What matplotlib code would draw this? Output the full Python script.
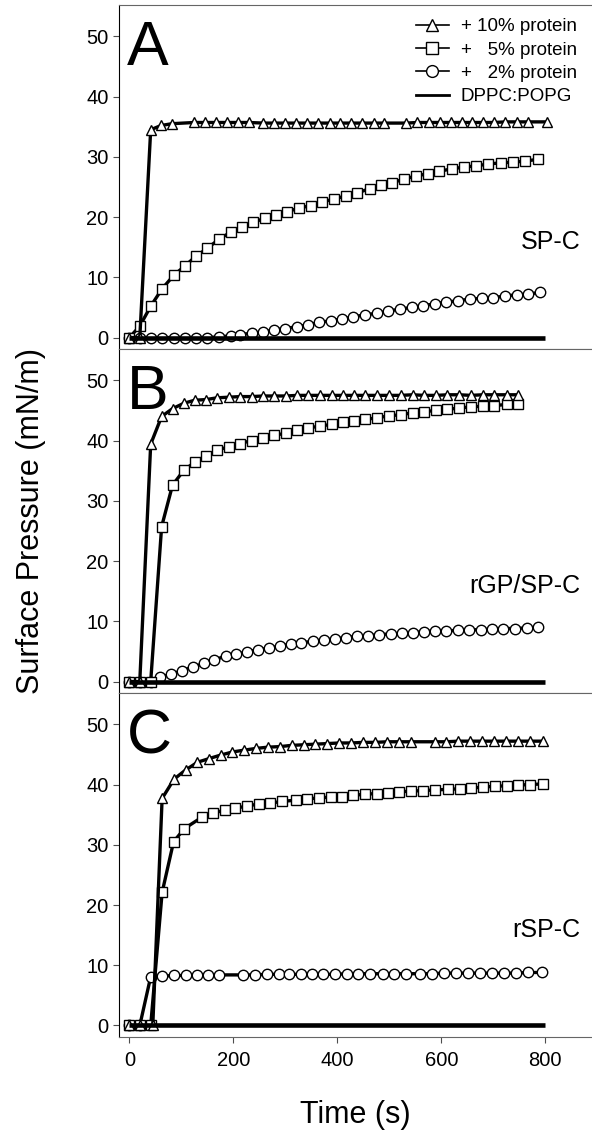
import numpy as np
import matplotlib.pyplot as plt
from matplotlib.lines import Line2D

plt.rcParams['font.family'] = ['Liberation Sans', 'DejaVu Sans']

# ---- panel A : SP-C ----
tA_10 = [0, 20, 41, 61, 82, 125, 146, 167, 188, 209, 230, 258, 279, 300, 321, 342, 363, 385,
         406, 427, 448, 470, 490, 533, 554, 576, 597, 618, 639, 660, 681, 702, 723, 745, 766, 803]
pA_10 = [0, 0, 34.5, 35.2, 35.5, 35.7, 35.7, 35.7, 35.7, 35.7, 35.7, 35.6, 35.6, 35.6, 35.6, 35.6,
         35.6, 35.6, 35.6, 35.6, 35.6, 35.6, 35.6, 35.6, 35.7, 35.7, 35.7, 35.7, 35.7, 35.7, 35.7,
         35.7, 35.8, 35.8, 35.8, 35.8]
tA_5 = [0, 20, 41, 63, 85, 107, 128, 150, 172, 195, 217, 238, 260, 283, 304, 327, 349, 371,
        394, 416, 438, 462, 484, 506, 528, 551, 574, 596, 620, 644, 667, 690, 714, 738, 762, 787]
pA_5 = [0, 1.9, 5.2, 8.1, 10.3, 11.9, 13.5, 14.8, 16.3, 17.5, 18.4, 19.1, 19.8, 20.4, 20.9, 21.5,
        21.9, 22.5, 23.0, 23.5, 24.0, 24.7, 25.3, 25.7, 26.3, 26.8, 27.2, 27.6, 28.0, 28.3, 28.5,
        28.8, 29.0, 29.1, 29.3, 29.6]
tA_2 = [0, 20, 41, 63, 85, 107, 128, 150, 172, 195, 213, 235, 258, 279, 300, 322, 344, 365, 387,
        409, 431, 453, 476, 498, 520, 543, 565, 588, 610, 633, 655, 678, 700, 722, 745, 767, 790]
pA_2 = [0, 0, 0, 0, 0, 0, 0, 0, 0.1, 0.3, 0.5, 0.7, 0.9, 1.3, 1.5, 1.8, 2.1, 2.5, 2.8, 3.1, 3.4,
        3.8, 4.0, 4.4, 4.7, 5.0, 5.3, 5.6, 5.9, 6.1, 6.4, 6.5, 6.6, 6.9, 7.1, 7.2, 7.5]

# ---- panel B : rGP/SP-C ----
tB_10 = [0, 20, 41, 62, 83, 105, 126, 147, 169, 192, 213, 235, 258, 279, 301, 323, 344, 367,
         389, 410, 432, 454, 477, 500, 522, 545, 567, 590, 612, 635, 657, 680, 702, 726, 748]
pB_10 = [0, 0, 39.4, 44.0, 45.3, 46.2, 46.7, 46.8, 47.1, 47.2, 47.3, 47.3, 47.4, 47.4, 47.4, 47.5,
         47.5, 47.5, 47.5, 47.5, 47.5, 47.5, 47.5, 47.5, 47.5, 47.6, 47.5, 47.5, 47.6, 47.6, 47.5,
         47.6, 47.6, 47.6, 47.6]
tB_5 = tB_10
pB_5 = [0, 0, 0, 25.7, 32.6, 35.1, 36.4, 37.5, 38.4, 39.0, 39.5, 40.0, 40.5, 40.9, 41.2, 41.7,
        42.1, 42.4, 42.7, 43.0, 43.3, 43.5, 43.8, 44.1, 44.3, 44.6, 44.8, 45.0, 45.2, 45.4, 45.6,
        45.7, 45.8, 46.0, 46.1]
tB_2 = [0, 20, 41, 59, 80, 101, 122, 143, 163, 185, 205, 226, 247, 268, 289, 310, 331, 353, 374,
        396, 417, 438, 460, 481, 503, 524, 545, 567, 588, 610, 632, 654, 676, 697, 719, 742, 764, 786]
pB_2 = [0, 0, 0, 0.7, 1.2, 1.8, 2.4, 3.0, 3.6, 4.2, 4.5, 4.9, 5.3, 5.5, 5.9, 6.2, 6.4, 6.7, 6.9,
        7.1, 7.3, 7.5, 7.6, 7.8, 7.9, 8.0, 8.1, 8.3, 8.4, 8.4, 8.5, 8.6, 8.6, 8.7, 8.8, 8.8, 8.9, 9.0]

# ---- panel C : rSP-C ----
tC_10 = [0, 20, 45, 63, 86, 108, 131, 153, 176, 198, 220, 244, 266, 290, 312, 335, 357, 381,
         404, 427, 450, 473, 496, 519, 542, 588, 610, 633, 656, 679, 702, 725, 748, 770, 796]
pC_10 = [0, 0, 0, 37.7, 40.9, 42.4, 43.7, 44.3, 44.9, 45.4, 45.7, 46.0, 46.2, 46.3, 46.5, 46.6,
         46.7, 46.8, 46.9, 46.9, 47.0, 47.0, 47.1, 47.1, 47.1, 47.1, 47.1, 47.2, 47.2, 47.2, 47.2,
         47.2, 47.2, 47.2, 47.2]
tC_5 = [0, 20, 41, 63, 85, 106, 140, 161, 183, 204, 226, 249, 271, 293, 320, 342, 365, 387,
        409, 431, 453, 476, 498, 519, 542, 564, 588, 613, 636, 658, 681, 704, 726, 748, 770, 795]
pC_5 = [0, 0, 0, 22.1, 30.5, 32.7, 34.6, 35.3, 35.7, 36.1, 36.4, 36.8, 36.9, 37.2, 37.4, 37.6,
        37.8, 37.9, 38.0, 38.2, 38.4, 38.5, 38.6, 38.8, 38.9, 39.0, 39.1, 39.2, 39.3, 39.4, 39.6,
        39.7, 39.8, 39.9, 40.0, 40.1]
tC_2 = [0, 20, 41, 63, 86, 108, 130, 151, 172, 219, 242, 264, 287, 308, 330, 351, 373, 396,
        418, 440, 463, 487, 510, 533, 559, 582, 605, 628, 651, 674, 697, 720, 744, 767, 793]
pC_2 = [0, 0, 8.1, 8.2, 8.3, 8.3, 8.4, 8.4, 8.4, 8.4, 8.4, 8.5, 8.5, 8.5, 8.5, 8.5, 8.5, 8.5,
        8.6, 8.6, 8.6, 8.6, 8.6, 8.6, 8.6, 8.6, 8.7, 8.7, 8.7, 8.7, 8.7, 8.7, 8.7, 8.8, 8.8]

# lipid-only control, flat at zero
t_lipid = [0, 800]
p_lipid = [0, 0]

panels = [
    ('A', 'SP-C', (tA_10, pA_10), (tA_5, pA_5), (tA_2, pA_2)),
    ('B', 'rGP/SP-C', (tB_10, pB_10), (tB_5, pB_5), (tB_2, pB_2)),
    ('C', 'rSP-C', (tC_10, pC_10), (tC_5, pC_5), (tC_2, pC_2)),
]
legend_labels = ['+ 10% protein', '+   5% protein', '+   2% protein', 'DPPC:POPG']

fig, axes = plt.subplots(3, 1, figsize=(5.92, 11.39), dpi=100, sharex=True)
fig.subplots_adjust(left=0.201, right=1.0, top=0.9956, bottom=0.0896, hspace=0)

line_kw = dict(color='black', lw=2.4, mfc='white', mec='black', mew=1.0)
spine_col = '0.4'

for ax, (letter, name, s10, s5, s2) in zip(axes, panels):
    ax.plot(s2[0], s2[1], marker='o', ms=7.5, **line_kw)
    ax.plot(s5[0], s5[1], marker='s', ms=6.5, **line_kw)
    ax.plot(s10[0], s10[1], marker='^', ms=7.5, **line_kw)
    ax.plot(t_lipid, p_lipid, color='black', lw=3.3, solid_capstyle='butt')

    ax.set_xlim(-20, 890)
    ax.set_ylim(-1.9, 55.2)
    ax.set_yticks([0, 10, 20, 30, 40, 50])
    ax.set_xticks([0, 200, 400, 600, 800])
    ax.spines['right'].set_visible(False)
    for sp in ['top', 'bottom']:
        ax.spines[sp].set_color(spine_col)
    ax.spines['left'].set_color('black')
    ax.tick_params(direction='out', length=4, width=0.8, labelsize=14.5, color='0.3')

    ax.text(0.017, 0.825, letter, transform=ax.transAxes, fontsize=45, va='baseline', ha='left')
    ax.text(0.975, 0.31, name, transform=ax.transAxes, fontsize=18, va='center', ha='right')

# legend sits in the top panel
handles = [
    Line2D([], [], color='black', lw=1.2, marker='^', ms=8.5, mfc='white', mec='black'),
    Line2D([], [], color='black', lw=1.2, marker='s', ms=8, mfc='white', mec='black'),
    Line2D([], [], color='black', lw=1.2, marker='o', ms=8.5, mfc='white', mec='black'),
    Line2D([], [], color='black', lw=2.0),
]
axes[0].legend(handles, legend_labels, loc='upper left', bbox_to_anchor=(0.627, 0.962),
               frameon=False, fontsize=13.5, handlelength=1.8, handletextpad=0.6,
               labelspacing=0.33, borderpad=0, borderaxespad=0)

axes[2].set_xlabel('Time (s)', fontsize=22, labelpad=22)
axes[2].tick_params(axis='x', pad=6)
fig.text(0.052, 1 - 521 / 1139, 'Surface Pressure (mN/m)', rotation=90, fontsize=22,
         ha='center', va='center')

fig.savefig('out.png', dpi=100)
